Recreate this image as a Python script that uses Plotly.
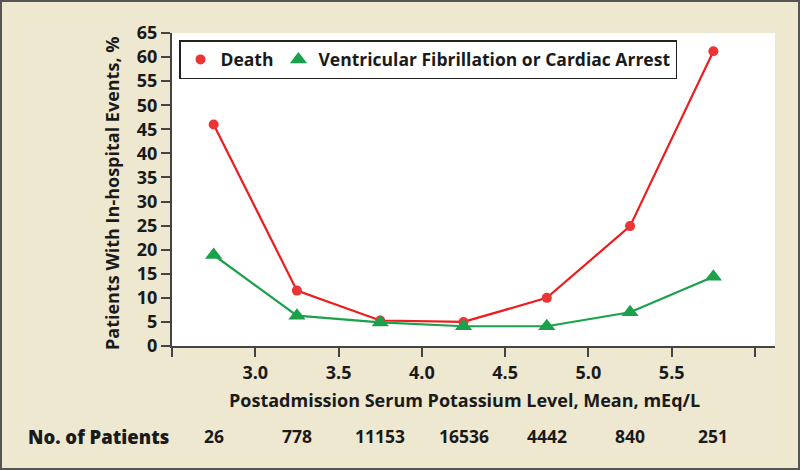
import plotly.graph_objects as go

potassium = [2.75, 3.25, 3.75, 4.25, 4.75, 5.25, 5.75]
death = [46.0, 11.5, 5.3, 5.0, 10.0, 24.9, 61.2]
vf_arrest = [18.9, 6.3, 4.9, 4.1, 4.1, 7.0, 14.4]
n_patients = ["26", "778", "11153", "16536", "4442", "840", "251"]
x_ticks = [2.5, 3.0, 3.5, 4.0, 4.5, 5.0, 5.5, 6.0]
x_ticklabels = ["", "3.0", "3.5", "4.0", "4.5", "5.0", "5.5", ""]
y_ticks = list(range(0, 70, 5))

FONT = "Open Sans"
BG = "#EEE8D1"
TXT = "#1a1a1a"
RED_LINE = "#EE1C1C"
RED_MK = "#EE3333"
GREEN = "#1BA04C"
W = 700

plot_left, plot_right, plot_top, plot_bottom = 172, 775, 33, 346
pw = plot_right - plot_left
ph = plot_bottom - plot_top

fig = go.Figure()
fig.add_trace(go.Scatter(
    x=potassium, y=death, mode="lines+markers", name="Death",
    line=dict(color=RED_LINE, width=2.2),
    marker=dict(symbol="circle", size=10, color=RED_MK),
    showlegend=False,
))
fig.add_trace(go.Scatter(
    x=potassium, y=vf_arrest, mode="lines+markers",
    name="Ventricular Fibrillation or Cardiac Arrest",
    line=dict(color=GREEN, width=2.2),
    marker=dict(symbol="triangle-up", size=15, color=GREEN),
    showlegend=False,
))
# legend-only entries (marker symbol only, like the reference)
fig.add_trace(go.Scatter(
    x=[None], y=[None], mode="markers", name="Death",
    marker=dict(symbol="circle", size=10, color=RED_MK),
))
fig.add_trace(go.Scatter(
    x=[None], y=[None], mode="markers",
    name="Ventricular Fibrillation or Cardiac Arrest",
    marker=dict(symbol="triangle-up", size=15, color=GREEN),
))

row_y = (plot_bottom - 436) / ph
annotations = [dict(
    x=(26 - plot_left) / pw, xref="paper", xanchor="left",
    y=row_y, yref="paper", yanchor="middle",
    text="No. of Patients", showarrow=False,
    font=dict(family=FONT, size=18.5, color=TXT, weight=800),
)]
for xv, n in zip(potassium, n_patients):
    annotations.append(dict(
        x=xv, xref="x", xanchor="center",
        y=row_y, yref="paper", yanchor="middle",
        text=n, showarrow=False,
        font=dict(family=FONT, size=17.5, color=TXT, weight=W),
    ))
annotations.append(dict(
    x=(464 - plot_left) / pw, xref="paper", xanchor="center",
    y=(plot_bottom - 400) / ph, yref="paper", yanchor="middle",
    text="Postadmission Serum Potassium Level, Mean, mEq/L", showarrow=False,
    font=dict(family=FONT, size=18, color=TXT, weight=W),
))
annotations.append(dict(
    x=(112 - plot_left) / pw, xref="paper", xanchor="center",
    y=(plot_bottom - 194) / ph, yref="paper", yanchor="middle",
    text="Patients With In-hospital Events, %", showarrow=False, textangle=-90,
    font=dict(family=FONT, size=18, color=TXT, weight=W),
))

fig.update_layout(
    width=800, height=470,
    paper_bgcolor=BG, plot_bgcolor="white",
    margin=dict(l=plot_left, r=800 - plot_right, t=plot_top, b=470 - plot_bottom),
    showlegend=True,
    legend=dict(
        x=(179 - plot_left) / pw, y=(plot_bottom - 40) / ph,
        xanchor="left", yanchor="top",
        orientation="h", bgcolor="white",
        bordercolor="#222222", borderwidth=1.5,
        font=dict(family=FONT, size=17.5, color=TXT, weight=W),
        itemwidth=30,
    ),
    xaxis=dict(
        range=[2.5, 6.12], tickvals=x_ticks, ticktext=x_ticklabels,
        showgrid=False, zeroline=False, showline=True,
        linecolor="#444444", linewidth=2,
        ticks="outside", ticklen=9, tickwidth=2, tickcolor="#444444",
        tickfont=dict(family=FONT, size=18, color=TXT, weight=W),
    ),
    yaxis=dict(
        range=[0, 65], tickvals=y_ticks,
        showgrid=False, zeroline=False, showline=True,
        linecolor="#444444", linewidth=2,
        ticks="outside", ticklen=9, tickwidth=2, tickcolor="#444444",
        tickfont=dict(family=FONT, size=18, color=TXT, weight=W),
    ),
    annotations=annotations,
    shapes=[dict(type="rect", xref="paper", yref="paper",
                 x0=-(plot_left - 1) / pw, x1=(799 - plot_left) / pw,
                 y0=-(469 - plot_bottom) / ph, y1=(plot_bottom - 1) / ph,
                 line=dict(color="#555555", width=2))],
)

fig.write_html("out.html", config={"displayModeBar": False},
               post_script="document.body.style.margin='0';")
